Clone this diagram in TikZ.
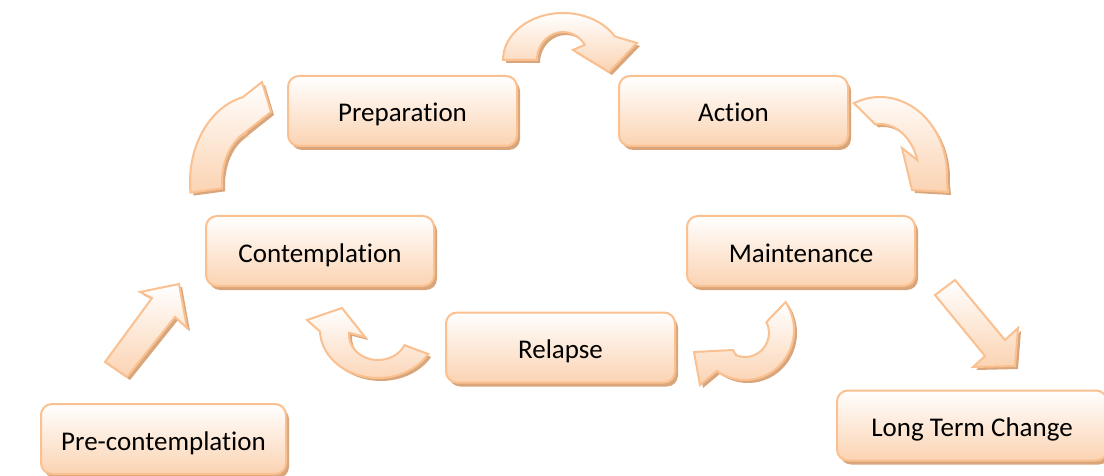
\documentclass[tikz,border=0pt]{standalone}
\usepackage{fontspec}
\setmainfont{Carlito}[Ligatures=NoCommon]
\usetikzlibrary{shadows,calc}

\definecolor{boxline}{HTML}{FAC090}
\definecolor{peach}{HTML}{FBD3B2}
\definecolor{shadowtan}{HTML}{D9A67C}

\tikzset{
  stage/.style={rectangle, rounded corners=11pt, draw=boxline, line width=2pt,
    top color=white, bottom color=peach, minimum height=70pt, text=black,
    font=\fontsize{27}{32}\selectfont, text height=24pt, text depth=2pt,
    drop shadow={shadow xshift=3pt, shadow yshift=-4pt, fill=shadowtan, opacity=1}},
  arrowbody/.style={draw=boxline, line width=2pt, top color=white, bottom color=peach, line join=miter},
  arrowshadow/.style={fill=shadowtan},
}

% block arrow: shadow copy offset down-right, then the shaded body
\newcommand\blockarrow[1]{%
  \begin{scope}[transform canvas={shift={(3pt,-3pt)}}]
    \fill[arrowshadow] #1;
  \end{scope}
  \shade[arrowbody] #1;}

\begin{document}
\begin{tikzpicture}[x=1pt, y=-1pt]
  \useasboundingbox (0,0) rectangle (1104,476);
  \clip (0,0) rectangle (1104,476);

  % stages
  \node[stage, minimum width=229pt] (prep)  at (402.5,111) {Preparation};
  \node[stage, minimum width=229pt] (act)   at (733.5,111) {Action};
  \node[stage, minimum width=228pt] (cont)  at (320,251)   {Contemplation};
  \node[stage, minimum width=228pt] (maint) at (801,251)   {Maintenance};
  \node[stage, minimum width=229pt] (rel)   at (560.5,347.5) {Relapse};
  \node[stage, minimum width=245pt] (pre)   at (163.5,439) {Pre-contemplation};
  \node[stage, minimum width=270pt] (ltc)   at (972,425.5) {Long Term Change};

  % Preparation -> Action
  \blockarrow{($(563,60)+(180:60 and 47)$) arc[start angle=180, end angle=330, x radius=60, y radius=47]
    -- (637,43) -- (609,72) -- (573,50)
    -- ($(563,60)+(327:26 and 28)$) arc[start angle=327, end angle=180, x radius=26, y radius=28] -- cycle}

  % Contemplation -> Preparation
  \blockarrow{($(258,182)+(173:68 and 87)$) arc[start angle=173, end angle=257, x radius=68, y radius=87]
    -- (262,82) -- (271,112) -- (238,138)
    -- ($(258,182)+(252:36 and 52)$) arc[start angle=252, end angle=173, x radius=36, y radius=52] -- cycle}

  % Action -> Maintenance
  \blockarrow{($(880,175)+(-113:67 and 78)$) arc[start angle=-113, end angle=4, x radius=67, y radius=78]
    -- (948,192) -- (912,190) -- (902,148)
    -- ($(880,175)+(-17:39 and 51)$) arc[start angle=-17, end angle=-97, x radius=39, y radius=51] -- cycle}

  % Maintenance -> Relapse
  \blockarrow{($(745,330)+(-34:49 and 50)$) arc[start angle=-34, end angle=125, x radius=49, y radius=50]
    -- (700,385) -- (694,352) -- (733,350)
    -- ($(745,333)+(112:24 and 24)$) arc[start angle=112, end angle=-27, radius=24] -- cycle}

  % Relapse -> Contemplation
  \blockarrow{($(378,330)+(30:58 and 48)$) arc[start angle=30, end angle=178, x radius=58, y radius=48]
    -- (307,320) -- (342,308) -- (365,337)
    -- ($(378,335)+(185:29 and 25)$) arc[start angle=185, end angle=24, x radius=29, y radius=25] -- cycle}

  % Pre-contemplation -> Contemplation
  \blockarrow{(105,362) -- (152,298) -- (140,292) -- (179,284) -- (187,328) -- (175,317) -- (127,377) -- cycle}

  % Maintenance -> Long Term Change
  \blockarrow{(935,295) -- (955,280) -- (1005,340) -- (1018,328) -- (1015,366) -- (973,367) -- (985,356) -- cycle}
\end{tikzpicture}
\end{document}
